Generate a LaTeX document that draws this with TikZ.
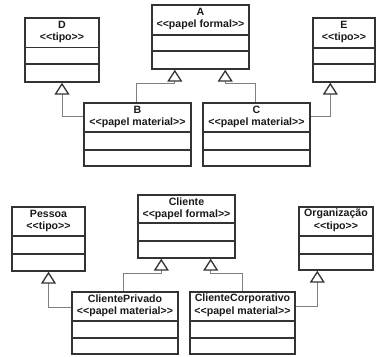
\documentclass[tikz,border=0pt]{standalone}
\usepackage{fontspec}
\setmainfont{Liberation Sans}
\usetikzlibrary{arrows.meta,calc,fit}

\definecolor{boxline}{HTML}{333333}
\definecolor{connline}{HTML}{808080}
\definecolor{inktext}{HTML}{1A1A1A}

\tikzset{
  classbox/.style={draw=boxline, line width=1.4pt, fill=white, inner sep=0pt, rectangle},
  classline/.style={draw=boxline, line width=1.4pt},
  classtext/.style={inner sep=0pt, text=inktext, font=\fontsize{10.6}{12}\selectfont\bfseries},
  conn/.style={draw=connline, line width=1pt,
    -{Triangle[length=12pt, width=15pt, fill=white, color=boxline, line width=1.3pt]}},
}

% \umlclass{name}{left}{top}{right}{bottom}{divider 1}{divider 2}{title}{stereotype}
\newcommand{\umlclass}[9]{%
  \node[classbox, fit={(#2,#3) (#4,#5)}] (#1) {};
  \draw[classline] (#1.west |- 0,#6) -- (#1.east |- 0,#6);
  \draw[classline] (#1.west |- 0,#7) -- (#1.east |- 0,#7);
  \node[classtext] (#1-name) at ($(#1.north)+(0,7.5)$) {#8};
  \node[classtext] (#1-role) at ($(#1.north)+(0,20.5)$) {#9};
}

\begin{document}
\begin{tikzpicture}[x=1pt, y=-1pt]
  \useasboundingbox[fill=white] (0,0) rectangle (377,356);

  % upper diagram
  \umlclass{D}{25}{18}{99}{82}{47.5}{64}{D}{<{}<tipo>{}>}
  \umlclass{A}{152}{5}{249}{69}{35}{51}{A}{<{}<papel formal>{}>}
  \umlclass{E}{313}{18}{375}{82}{48}{64}{E}{<{}<tipo>{}>}
  \umlclass{B}{84}{103}{191}{166}{132}{150}{B}{<{}<papel material>{}>}
  \umlclass{C}{203}{103}{310}{166}{132}{150}{C}{<{}<papel material>{}>}

  \draw[conn] ($(B.north west)+(53,0)$) |- ($(A.south west)+(23.5,14)$) -- ($(A.south west)+(23.5,0)$);
  \draw[conn] ($(C.north west)+(53,0)$) |- ($(A.south east)+(-24.5,14)$) -- ($(A.south east)+(-24.5,0)$);
  \draw[conn] ($(B.north west)+(0,14)$) -| (D.south);
  \draw[conn] ($(C.north east)+(0,14)$) -| ($(E.south west)+(18,0)$);

  % lower diagram
  \umlclass{P}{12}{207}{85}{271}{236}{254}{Pessoa}{<{}<tipo>{}>}
  \umlclass{CL}{138}{195}{235}{258}{223}{241}{Cliente}{<{}<papel formal>{}>}
  \umlclass{O}{299}{207}{373}{270}{236}{254}{Organização}{<{}<tipo>{}>}
  \umlclass{CP}{72}{292}{178}{354}{321}{338}{ClientePrivado}{<{}<papel material>{}>}
  \umlclass{CC}{190}{292}{295}{354}{321}{338}{ClienteCorporativo}{<{}<papel material>{}>}

  \draw[conn] ($(CP.north west)+(52,0)$) |- ($(CL.south west)+(24,15)$) -- ($(CL.south west)+(24,0)$);
  \draw[conn] ($(CC.north west)+(53,0)$) |- ($(CL.south east)+(-25,15)$) -- ($(CL.south east)+(-25,0)$);
  \draw[conn] ($(CP.north west)+(0,16)$) -| (P.south);
  \draw[conn] ($(CC.north east)+(0,15)$) -| ($(O.south west)+(19,0)$);
\end{tikzpicture}
\end{document}
